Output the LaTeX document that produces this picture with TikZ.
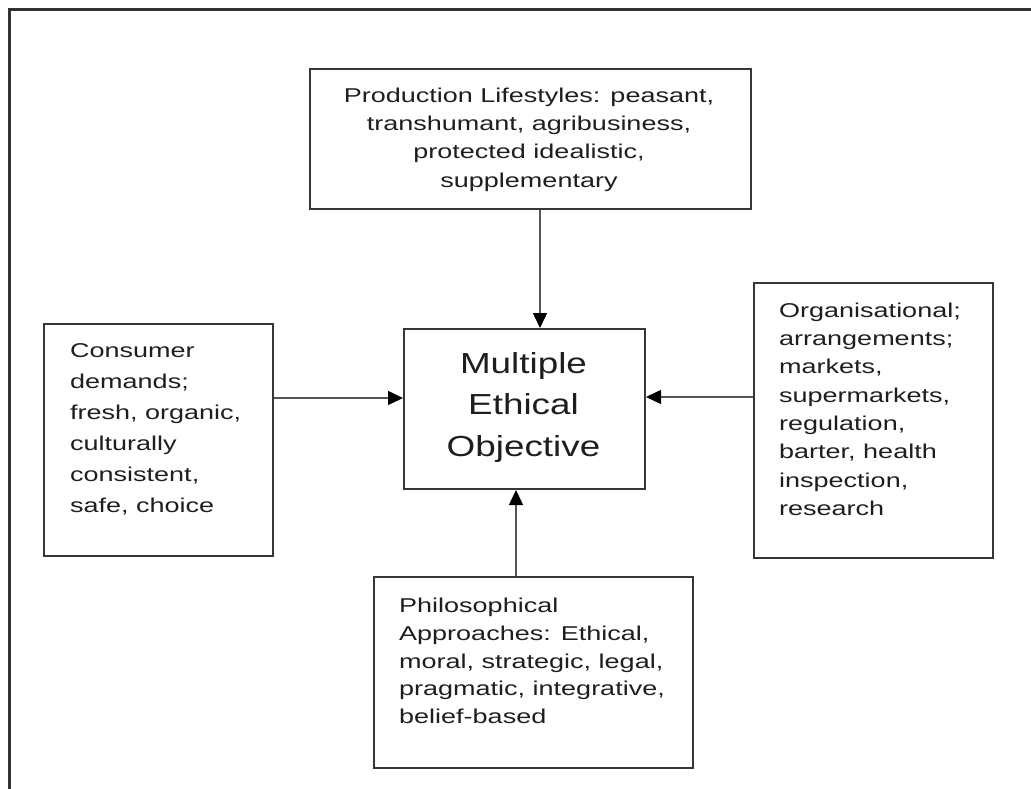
\documentclass[tikz,border=0pt]{standalone}
\usepackage{fontspec}
\setmainfont{Liberation Sans}
\newfontfamily\sfs[FakeStretch=1.35]{Liberation Sans}
\newfontfamily\sfc[FakeStretch=1.27]{Liberation Sans}
\usetikzlibrary{arrows.meta}
\definecolor{framec}{RGB}{50,50,50}
\definecolor{boxc}{RGB}{55,55,55}
\definecolor{linec}{RGB}{85,85,85}
\definecolor{txtc}{RGB}{30,30,30}
\begin{document}
\begin{tikzpicture}[x=1pt,y=-1pt,
  box/.style={draw=boxc, line width=2pt, inner sep=0pt, anchor=north west},
  lbl/.style={inner sep=0pt, align=left, text=txtc},
  small/.style={font=\sfs\fontsize{20}{28.3}\selectfont},
  conn/.style={draw=linec, line width=1.5pt, -{Triangle[length=15pt,width=14pt,color=black]}},
]
\useasboundingbox (0,0) rectangle (1031,789);
\draw[framec, line width=3pt] (1031,10) -- (9.5,10) -- (9.5,789);

% boxes
\node[box, minimum width=441pt, minimum height=140pt] (T) at (309,68) {};
\node[box, minimum width=241pt, minimum height=160pt] (C) at (403,328) {};
\node[box, minimum width=229pt, minimum height=232pt] (L) at (43,323) {};
\node[box, minimum width=239pt, minimum height=275pt] (R) at (753,282) {};
\node[box, minimum width=319pt, minimum height=191pt] (B) at (373,576) {};

% texts
\node[lbl, small, align=center, anchor=north] (Tt) at (529,82)
  {\rule{0pt}{20pt}Production Lifestyles: peasant,\\ transhumant, agribusiness,\\ protected idealistic,\\ supplementary};
\node[lbl, align=center, anchor=north, font=\sfc\fontsize{29}{41.5}\selectfont] (Ct) at (523.5,350)
  {\rule{0pt}{23pt}Multiple\\ Ethical\\ Objective};
\node[lbl, anchor=north west, font=\sfs\fontsize{20}{31}\selectfont] (Lt) at (70,337)
  {\rule{0pt}{20pt}Consumer\\ demands;\\ fresh, organic,\\ culturally\\ consistent,\\ safe, choice};
\node[lbl, small, anchor=north west] (Rt) at (779,297)
  {\rule{0pt}{20pt}Organisational;\\ arrangements;\\ markets,\\ supermarkets,\\ regulation,\\ barter, health\\ inspection,\\ research};
\node[lbl, anchor=north west, font=\sfs\fontsize{20}{27.9}\selectfont] (Bt) at (399,592)
  {\rule{0pt}{20pt}Philosophical\\ Approaches: Ethical,\\ moral, strategic, legal,\\ pragmatic, integrative,\\ belief-based};

% connectors
\draw[conn] ([xshift=9.5pt]T.south) -- ([xshift=15.5pt]C.north);
\draw[conn] (L.east |- 0,398) -- (C.west |- 0,398);
\draw[conn] (R.west |- 0,397) -- (C.east |- 0,397);
\draw[conn] ([xshift=-17.5pt]B.north) -- ([xshift=-8.5pt]C.south);
\end{tikzpicture}
\end{document}
